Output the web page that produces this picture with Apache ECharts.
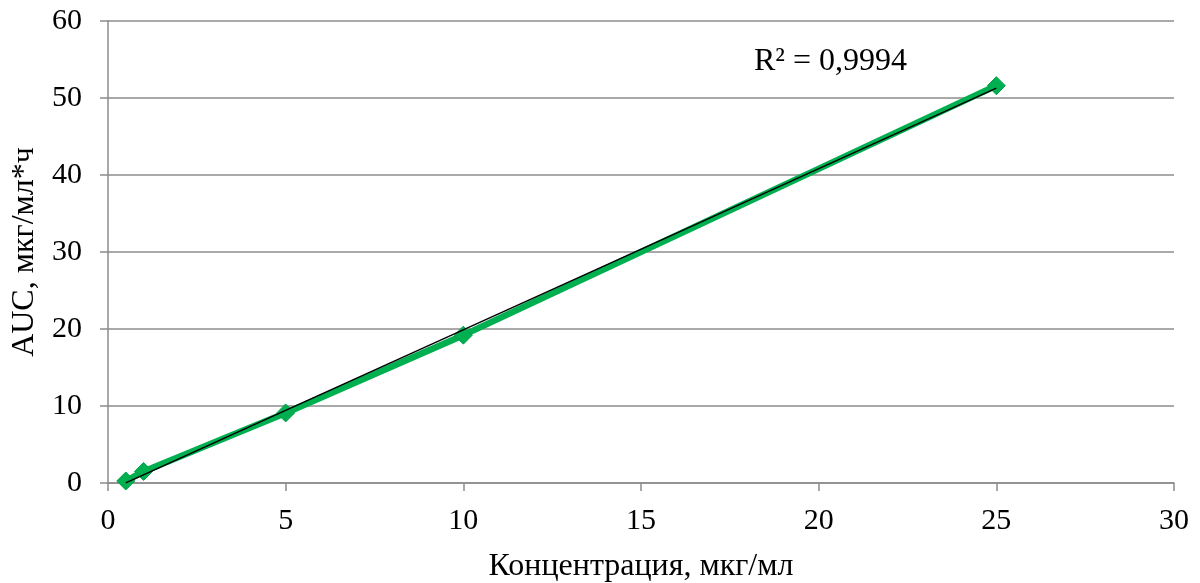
<!DOCTYPE html>
<html><head><meta charset="utf-8">
<script src="https://cdn.jsdelivr.net/npm/echarts@6/dist/echarts.min.js"></script>
<style>html,body{margin:0;padding:0;background:#fff}#c{width:1200px;height:583px}</style>
</head><body><div id="c"></div>
<script>
const concentrations = [0.5, 1, 5, 10, 25];
const aucValues = [0.26, 1.5, 9.1, 19.2, 51.6];
const r2Label = 'R² = 0,9994';
const xTitle = 'Концентрация, мкг/мл';
const yTitle = 'AUC, мкг/мл*ч';

// linear least-squares trendline from the data
const n = concentrations.length;
const mx = concentrations.reduce((a,b)=>a+b,0)/n;
const my = aucValues.reduce((a,b)=>a+b,0)/n;
let sxy=0,sxx=0;
for(let i=0;i<n;i++){sxy+=(concentrations[i]-mx)*(aucValues[i]-my);sxx+=(concentrations[i]-mx)**2;}
const slope=sxy/sxx, intercept=my-slope*mx;
const xMin=Math.min(...concentrations), xMax=Math.max(...concentrations);
const trend=[[xMin,slope*xMin+intercept],[xMax,slope*xMax+intercept]];

const font='"Liberation Serif","Times New Roman",serif';
const chart=echarts.init(document.getElementById('c'),null,{renderer:'canvas'});
chart.setOption({
  animation:false,
  grid:{left:108,right:26,top:21,bottom:100,containLabel:false,outerBoundsMode:'none'},
  xAxis:{type:'value',min:0,max:30,interval:5,
    name:xTitle,nameLocation:'middle',nameGap:68,
    nameTextStyle:{fontFamily:font,fontSize:32,color:'#000'},
    axisLine:{show:true,lineStyle:{color:'#8c8c8c',width:1.5}},
    axisTick:{show:true,length:8,lineStyle:{color:'#8c8c8c',width:1.5}},
    axisLabel:{fontFamily:font,fontSize:30,color:'#000',margin:23},
    splitLine:{show:false}},
  yAxis:{type:'value',min:0,max:60,interval:10,
    name:yTitle,nameLocation:'middle',nameGap:67,nameRotate:90,
    nameTextStyle:{fontFamily:font,fontSize:32,color:'#000'},
    axisLine:{show:true,lineStyle:{color:'#8c8c8c',width:1.5}},
    axisTick:{show:true,length:8,lineStyle:{color:'#8c8c8c',width:1.5}},
    axisLabel:{fontFamily:font,fontSize:30,color:'#000',margin:26},
    splitLine:{show:true,lineStyle:{color:'#8c8c8c',width:1.5}}},
  series:[
    {type:'line',data:concentrations.map((x,i)=>[x,aucValues[i]]),
     symbol:'diamond',symbolSize:18,
     lineStyle:{color:'#00B050',width:6.5},
     itemStyle:{color:'#00B050',borderColor:'#00A04a',borderWidth:1},z:2},
    {type:'line',data:trend,symbol:'none',
     lineStyle:{color:'#000',width:1.5},z:3}
  ],
  graphic:[{type:'text',left:754,top:46,
    style:{text:r2Label,font:'32px '+font,fill:'#000'}}]
});
</script></body></html>
